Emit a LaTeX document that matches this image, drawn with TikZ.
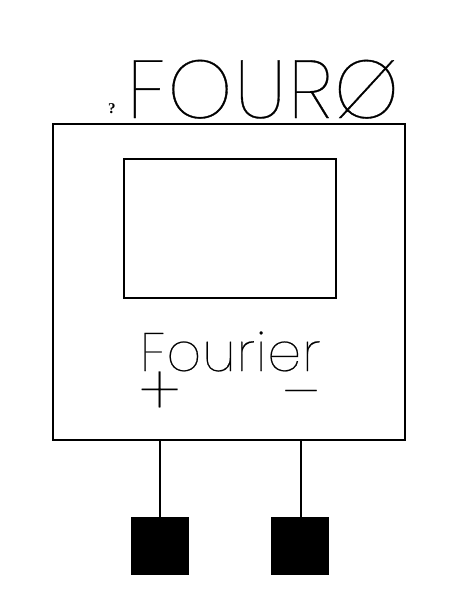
\documentclass[tikz,border=0pt]{standalone}
\usepackage{fontspec}
\newfontfamily\thinfont[FakeBold=0.4]{Poppins Thin}
\newfontfamily\smallfont{Liberation Serif Bold}
\usetikzlibrary{positioning}
\definecolor{ink}{HTML}{000000}

\begin{document}
\begin{tikzpicture}[x=1pt, y=-1pt, line width=1.2pt,
     block/.style={draw=ink, rectangle, inner sep=0pt, outer sep=0pt},
     pad/.style={block, fill=ink, minimum width=57pt, minimum height=57pt},
     lbl/.style={inner sep=0pt, outer sep=0pt, text=ink, anchor=base west}]
  \useasboundingbox (0,0) rectangle (463,611);
  \node[block, minimum width=352pt, minimum height=316pt] (body) at (229,282) {};
  \node[block, minimum width=212pt, minimum height=139pt] (screen) at (230,228.5) {};
  \node[pad] (padp) at (160,546) {};
  \node[pad] (padm) at (300,546) {};
  \draw (padp.north) -- (padp.north |- body.south);
  \draw ([xshift=1pt]padm.north) -- ([xshift=1pt]padm.north |- body.south);
  \node[lbl, font=\smallfont\fontsize{15}{15}\selectfont] (mark) at (108,113) {?};
  \node[lbl, font=\thinfont\fontsize{82}{82}\selectfont] (title) at (127,118) {\addfontfeature{LetterSpace=2.5}FOURØ};
  \node[lbl, font=\thinfont\fontsize{54}{54}\selectfont] (name) at (140,371) {\addfontfeature{LetterSpace=2}Fourier};
  \node[lbl, font=\thinfont\fontsize{70}{70}\selectfont] (plus) at (139,416) {\smash{+}};
  \node[lbl, font=\thinfont\fontsize{62}{62}\selectfont] (minus) at (283,414) {\smash{–}};
\end{tikzpicture}
\end{document}
